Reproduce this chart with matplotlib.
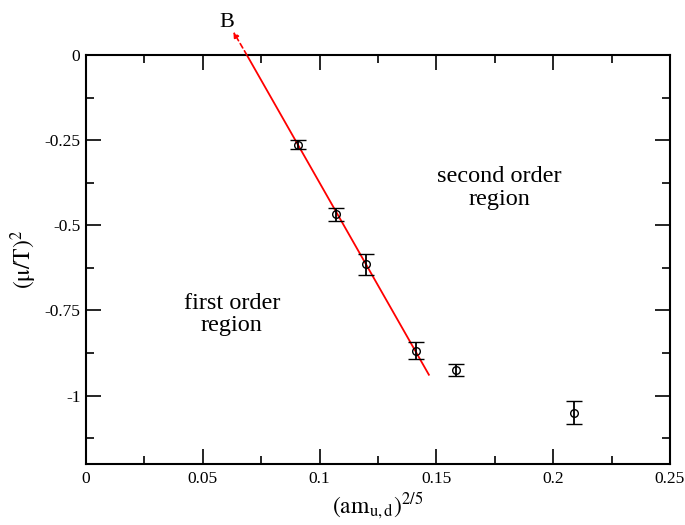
import matplotlib
matplotlib.use('Agg')
import matplotlib.pyplot as plt
from matplotlib.ticker import MultipleLocator

plt.rcParams['font.family'] = ['Liberation Serif', 'DejaVu Serif']
plt.rcParams['mathtext.fontset'] = 'stix'

# data points (am_ud)^(2/5), (mu/T)^2 and errors
x = [0.0909, 0.107, 0.120, 0.1411, 0.1584, 0.209]
y = [-0.263, -0.467, -0.615, -0.868, -0.925, -1.051]
yerr = [0.013, 0.019, 0.032, 0.024, 0.019, 0.034]

# red fit line and its dashed continuation towards B
fit_x = [0.0689, 0.1468]
fit_y = [0.0, -0.939]
ext_x = [0.0689, 0.0631]
ext_y = [0.0, 0.0685]

fig = plt.figure(figsize=(6.85, 5.25), dpi=100)
ax = fig.add_axes([0.1255, 0.117, 0.8525, 0.778])

ax.plot(fit_x, fit_y, color='red', lw=1.3)
ax.annotate('', xy=(ext_x[1], ext_y[1]), xytext=(ext_x[0], ext_y[0]),
            annotation_clip=False,
            arrowprops=dict(arrowstyle='-|>', color='red', lw=1.2,
                            linestyle=(0, (3, 2)), mutation_scale=8,
                            shrinkA=0, shrinkB=0))
ax.text(0.0604, 0.097, 'B', fontsize=16, ha='center', va='center', clip_on=False)

ax.errorbar(x, y, yerr=yerr, fmt='o', mfc='none', mec='black', ms=5.5, mew=1.0,
            ecolor='black', elinewidth=1.3, capsize=6, capthick=1.3, color='black')

ax.text(0.0625, -0.762, 'first order\nregion', fontsize=17.5, ha='center', va='center',
        linespacing=1.1)
ax.text(0.177, -0.39, 'second order\nregion', fontsize=17.5, ha='center', va='center',
        linespacing=1.1)

ax.set_xlim(0, 0.25)
ax.set_ylim(-1.2, 0)
ax.xaxis.set_minor_locator(MultipleLocator(0.025))
ax.yaxis.set_minor_locator(MultipleLocator(0.125))
ax.set_xticks([0, 0.05, 0.1, 0.15, 0.2, 0.25])
ax.set_xticklabels(['0', '0.05', '0.1', '0.15', '0.2', '0.25'])
ax.set_yticks([0, -0.25, -0.5, -0.75, -1])
ax.set_yticklabels(['0', '-0.25', '-0.5', '-0.75', '-1'])
ax.tick_params(which='both', direction='in', top=True, right=True, labelsize=12.5,
               width=1.2)
ax.tick_params(axis='x', pad=5)
ax.tick_params(axis='y', pad=4)
ax.tick_params(which='major', length=11)
ax.tick_params(which='minor', length=6)
for s in ax.spines.values():
    s.set_linewidth(1.5)

ax.set_xlabel(r'$(\mathrm{am}_{\mathrm{u,d}})^{2/5}$', fontsize=17, labelpad=3)
ax.set_ylabel(r'$(\mathrm{\mu/T})^{2}$', fontsize=17, labelpad=4)

fig.savefig('out.png', dpi=100)
